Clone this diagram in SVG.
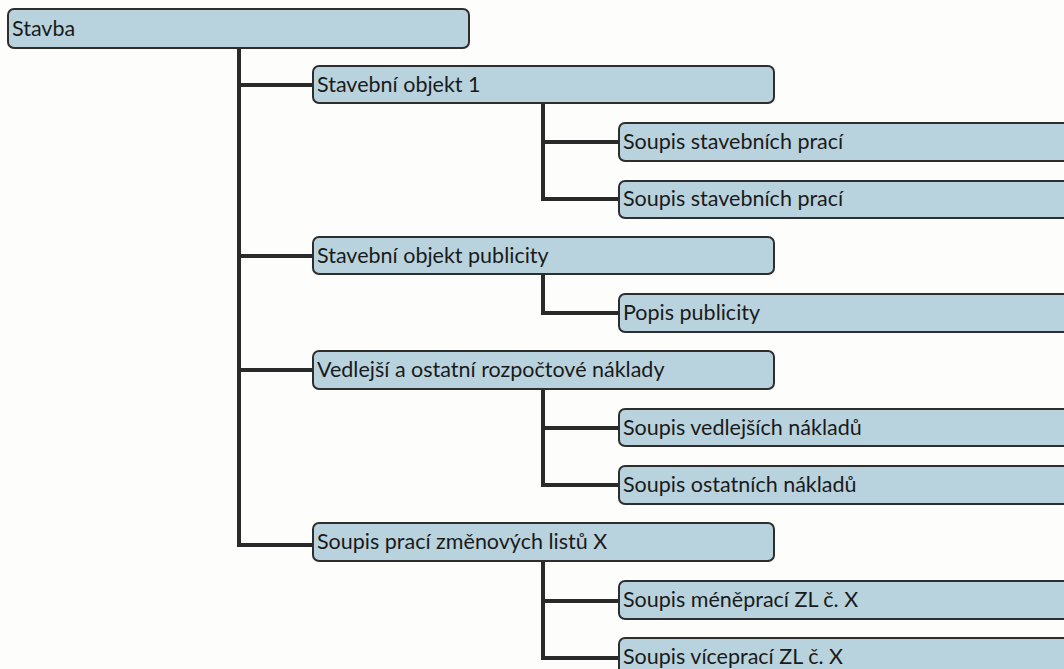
<svg xmlns="http://www.w3.org/2000/svg" width="1064" height="669" viewBox="0 0 1064 669">
<style>
.box{fill:#b9d3de;stroke:#2e2e2e;stroke-width:2}
.t{font-family:Lato,"Liberation Sans",sans-serif;font-size:21.5px;fill:#1a1a1a}
.c{fill:none;stroke:#2a2a2a;stroke-width:4;stroke-linejoin:miter}
</style>
<rect width="1064" height="669" fill="#fdfdfc"/>
<g id="connectors">
<path class="c" d="M239,48 V545 H313"/>
<path class="c" d="M239,85 H313"/>
<path class="c" d="M239,256 H313"/>
<path class="c" d="M239,370 H313"/>
<path class="c" d="M543,103 V199 H619"/>
<path class="c" d="M543,142 H619"/>
<path class="c" d="M543,274 V313 H619"/>
<path class="c" d="M543,389 V485 H619"/>
<path class="c" d="M543,428 H619"/>
<path class="c" d="M543,561 V658 H619"/>
<path class="c" d="M543,601 H619"/>
</g>
<g id="n-stavba"><rect class="box" x="8" y="9" width="461" height="39" rx="6"/><text class="t" x="12" y="36">Stavba</text></g>
<g id="n-so1"><rect class="box" x="313" y="66" width="461" height="37" rx="6"/><text class="t" x="317" y="92">Stavební objekt 1</text></g>
<g id="n-sp1"><rect class="box" x="619" y="123" width="455" height="38" rx="6"/><text class="t" x="623" y="149">Soupis stavebních prací</text></g>
<g id="n-sp2"><rect class="box" x="619" y="181" width="455" height="37" rx="6"/><text class="t" x="623" y="206">Soupis stavebních prací</text></g>
<g id="n-sop"><rect class="box" x="313" y="237" width="461" height="37" rx="6"/><text class="t" x="317" y="263">Stavební objekt publicity</text></g>
<g id="n-pp"><rect class="box" x="619" y="294" width="455" height="38" rx="6"/><text class="t" x="623" y="320">Popis publicity</text></g>
<g id="n-von"><rect class="box" x="313" y="351" width="461" height="38" rx="6"/><text class="t" x="317" y="377">Vedlejší a ostatní rozpočtové náklady</text></g>
<g id="n-svn"><rect class="box" x="619" y="409" width="455" height="37" rx="6"/><text class="t" x="623" y="435">Soupis vedlejších nákladů</text></g>
<g id="n-son"><rect class="box" x="619" y="466" width="455" height="38" rx="6"/><text class="t" x="623" y="492">Soupis ostatních nákladů</text></g>
<g id="n-zl"><rect class="box" x="313" y="523" width="461" height="38" rx="6"/><text class="t" x="317" y="549">Soupis prací změnových listů X</text></g>
<g id="n-mp"><rect class="box" x="619" y="581" width="455" height="38" rx="6"/><text class="t" x="623" y="607">Soupis méněprací ZL č. X</text></g>
<g id="n-vp"><rect class="box" x="619" y="638" width="455" height="40" rx="6"/><text class="t" x="623" y="664">Soupis víceprací ZL č. X</text></g>
</svg>
